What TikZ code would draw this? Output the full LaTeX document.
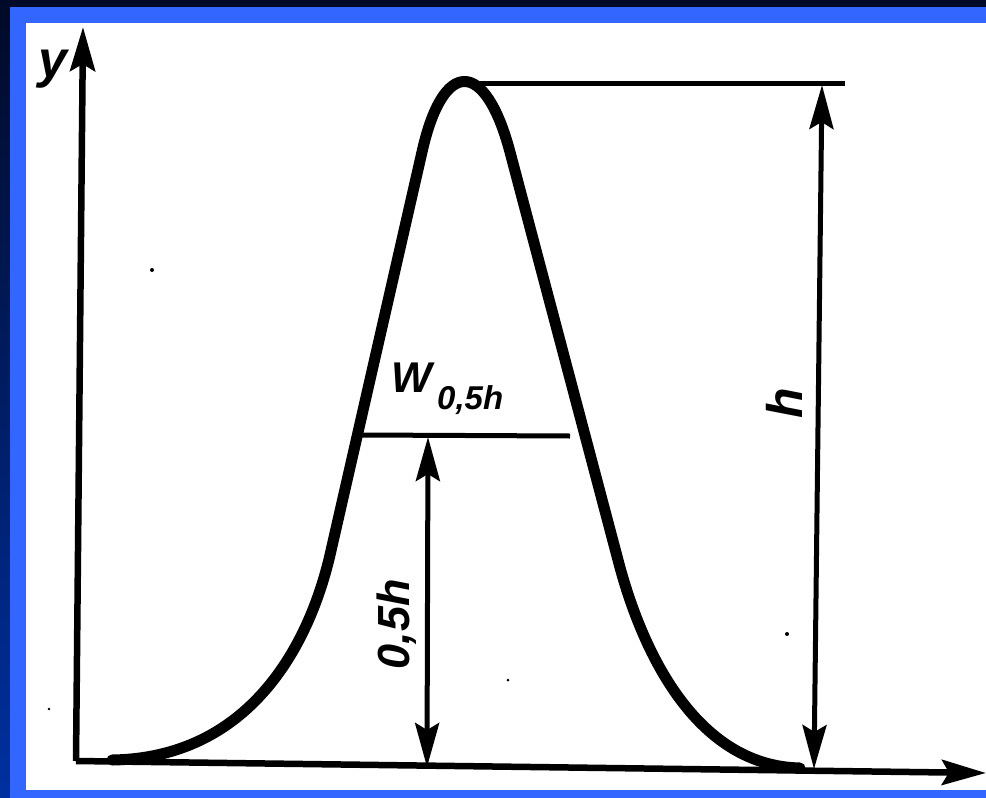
\documentclass[tikz,border=0pt]{standalone}
\usepackage{fontspec}
\newfontfamily\labfont{Liberation Sans}
\usetikzlibrary{arrows.meta}
\begin{document}
\begin{tikzpicture}[x=1pt,y=-1pt,
  axisline/.style={line width=6.5pt,line cap=butt},
  dimline/.style={line width=5pt},
  curveline/.style={line width=11pt,line cap=round,line join=round},
  tipa/.style={-{Stealth[length=44pt,width=25pt,inset=7pt]}},
  tipb/.style={{Stealth[length=44pt,width=24pt,inset=7pt]}-{Stealth[length=44pt,width=24pt,inset=7pt]}},
  lab/.style={inner sep=0pt},
  speck/.style={fill=black,draw=none}]
\useasboundingbox (0,0) rectangle (986,798);
% background frame
\shade[top color={rgb,255:red,0;green,10;blue,40},bottom color={rgb,255:red,0;green,48;blue,160}] (0,0) rectangle (986,798);
\fill[color={rgb,255:red,51;green,102;blue,255}] (10,7) rectangle (986,798);
\fill[white] (26,23) rectangle (986,790);
% coordinates
\coordinate (O) at (76,761);
\coordinate (ytip) at (83,27);
\coordinate (xtip) at (986,773);
\coordinate (peakL) at (456,83);
\coordinate (topR) at (845,83);
\coordinate (hT) at (822,85);
\coordinate (hB) at (814,769);
\coordinate (wL) at (362,435);
\coordinate (wR) at (570,436);
\coordinate (mT) at (428,437);
\coordinate (mB) at (427,767);
\coordinate (c0) at (112,760);
\coordinate (c1) at (330,555);
\coordinate (c2) at (422,152);
\coordinate (c3) at (510,152);
\coordinate (c4) at (618,560);
\coordinate (c5) at (800,768);
% axes
\draw[axisline,tipa] (O) -- (ytip);
\draw[axisline,tipa] (O) -- (xtip);
% peak
\draw[curveline] (c0) .. controls (250,758) and (309,645) .. (c1)
  -- (c2) .. controls (443,58) and (485,58) .. (c3)
  -- (c4) .. controls (644,660) and (700,766) .. (c5);
% dimension lines
\draw[dimline] (peakL) -- (topR);
\draw[dimline,tipb] (hT) -- (hB);
\draw[dimline] (wL) -- (wR);
\draw[dimline,tipb] (mT) -- (mB);
% labels
\node[lab,font=\labfont\bfseries\itshape\fontsize{52}{52}\selectfont] (ylab) at (53,69) {y};
\node[lab,font=\labfont\bfseries\itshape\fontsize{43}{43}\selectfont,anchor=base west] (wlab) at (391,392) {W};
\node[lab,font=\labfont\bfseries\itshape\fontsize{33}{33}\selectfont,anchor=base west] (wsub) at (437,409) {0,5h};
\node[lab,font=\labfont\bfseries\itshape\fontsize{45}{45}\selectfont,rotate=90] (mlab) at (397,624) {0,5h};
\node[lab,font=\labfont\bfseries\itshape\fontsize{50}{50}\selectfont,rotate=90] (hlab) at (784,403) {h};
% scan specks
\fill[speck] (152,270) circle (2);
\fill[speck] (49,709) circle (1.3);
\fill[speck] (787,634) circle (2);
\fill[speck] (508,680) circle (1.5);
\end{tikzpicture}
\end{document}
